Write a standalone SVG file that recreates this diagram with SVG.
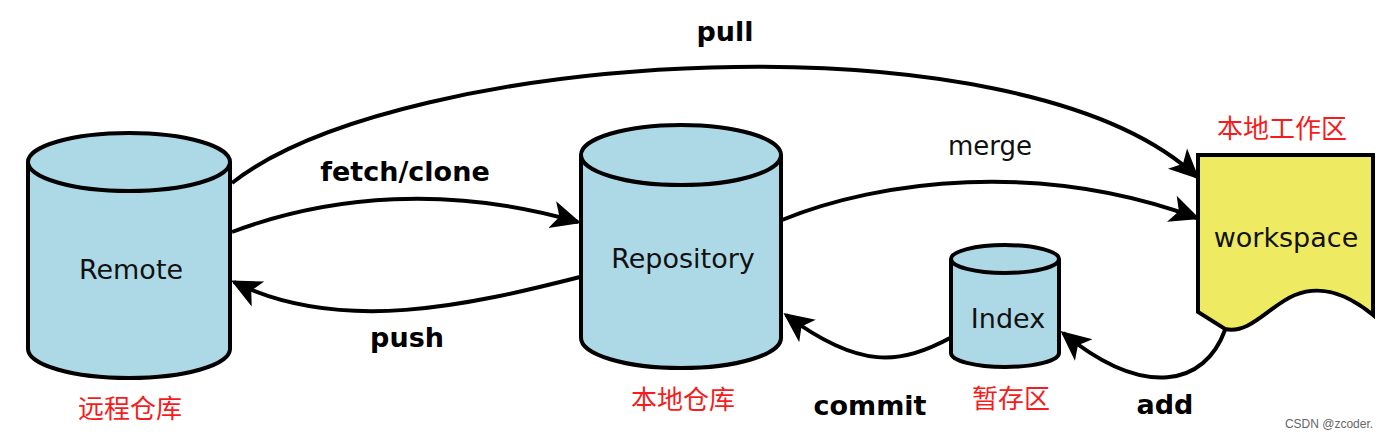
<svg xmlns="http://www.w3.org/2000/svg" width="1387" height="440" viewBox="0 0 1387 440">
<defs>
<style>
.cyl{fill:#add8e6;stroke:#000;stroke-width:4}
.ws{fill:#eeeb62;stroke:#000;stroke-width:4;stroke-linejoin:miter}
.lbl{font-family:"DejaVu Sans",sans-serif;font-size:27px;fill:#111;text-anchor:middle}
.bold{font-family:"DejaVu Sans",sans-serif;font-size:27px;font-weight:bold;fill:#000;text-anchor:middle}
.cn{font-family:"Noto Sans CJK SC",sans-serif;font-size:26px;fill:#f41c1c;text-anchor:middle}
.edge{fill:none;stroke:#000;stroke-width:4;marker-end:url(#arr)}
</style>
<marker id="arr" markerUnits="userSpaceOnUse" markerWidth="30" markerHeight="30" viewBox="0 0 28 28" refX="25" refY="14" orient="auto">
<path d="M0,1 L28,14 L0,27 L7,14 Z" fill="#000"/>
</marker>
</defs>
<rect width="1387" height="440" fill="#fff"/>

<g id="connectors">
<path class="edge" d="M232,183 C400,50 1020,10 1197,177"/>
<path class="edge" d="M232,232 C330,195 450,185 578,222"/>
<path class="edge" d="M580,277 C470,305 340,335 234,282"/>
<path class="edge" d="M782,220 C880,180 1040,160 1197,218"/>
<path class="edge" d="M952,337 C900,365 860,370 786,315"/>
<path class="edge" d="M1225,330 C1205,385 1145,400 1063,333"/>
</g>

<g id="remote">
<path class="cyl" d="M28,162 V349 A101,29 0 0 0 230,349 V162"/>
<ellipse class="cyl" cx="129" cy="162" rx="101" ry="29"/>
<text class="lbl" x="131" y="279">Remote</text>
<text class="cn" x="130" y="418">远程仓库</text>
</g>

<g id="repository">
<path class="cyl" d="M581,155 V338 A100,30 0 0 0 781,338 V155"/>
<ellipse class="cyl" cx="681" cy="155" rx="100" ry="30"/>
<text class="lbl" x="683" y="268">Repository</text>
<text class="cn" x="683" y="409">本地仓库</text>
</g>

<g id="index">
<path class="cyl" d="M951,259 V353 A54,14 0 0 0 1059,353 V259"/>
<ellipse class="cyl" cx="1005" cy="259" rx="54" ry="14"/>
<text class="lbl" x="1008" y="328">Index</text>
<text class="cn" x="1011" y="408">暂存区</text>
</g>

<g id="workspace">
<path class="ws" d="M1198,155 H1373 V315 C1345,292 1320,285 1295,295 S1250,335 1225,329 L1198,312 Z"/>
<text class="lbl" x="1286" y="247">workspace</text>
<text class="cn" x="1282" y="138">本地工作区</text>
</g>

<g id="labels">
<text class="bold" x="725" y="41">pull</text>
<text class="bold" x="405" y="181">fetch/clone</text>
<text class="bold" x="407" y="347">push</text>
<text class="lbl" x="990" y="155" style="font-size:26px">merge</text>
<text class="bold" x="870" y="415">commit</text>
<text class="bold" x="1165" y="414">add</text>
<text x="1329" y="428" style="font-family:'Liberation Sans',sans-serif;font-size:12px;fill:#666;text-anchor:middle">CSDN @zcoder.</text>
</g>
</svg>
